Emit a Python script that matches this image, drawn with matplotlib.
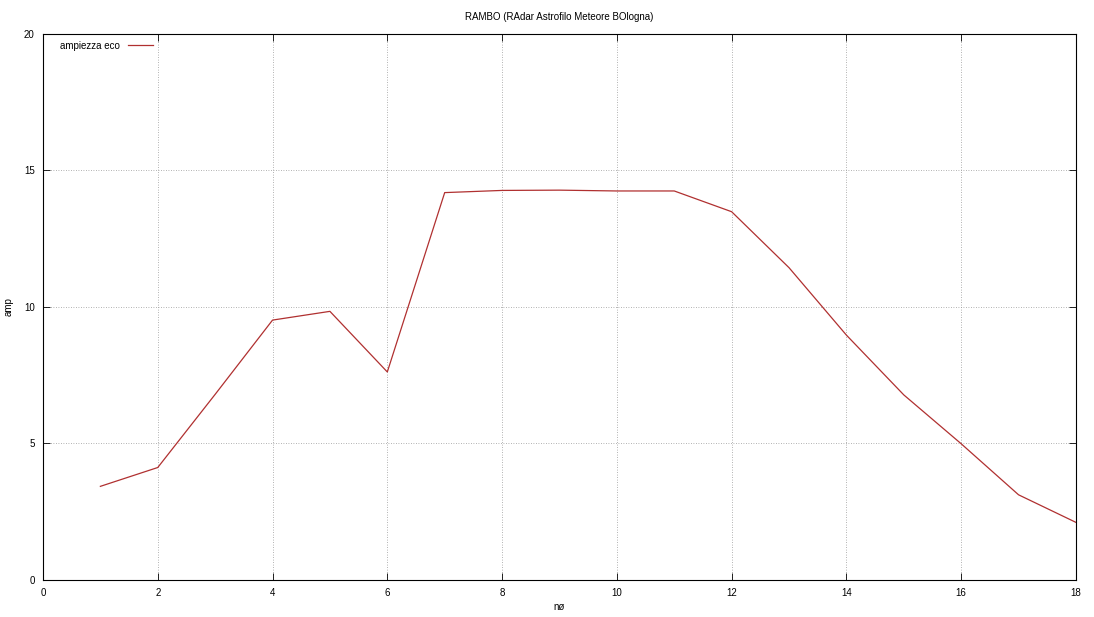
import matplotlib
matplotlib.use('Agg')
from matplotlib import pyplot as plt
import matplotlib.ticker as ticker

# data
n = [1, 2, 3, 4, 5, 6, 7, 8, 9, 10, 11, 12, 13, 14, 15, 16, 17, 18]
amp = [3.43, 4.12, 6.8, 9.52, 9.84, 7.62, 14.19, 14.27, 14.28, 14.25, 14.25,
       13.49, 11.44, 8.97, 6.78, 4.99, 3.12, 2.11]

plt.rcParams['font.family'] = ['Liberation Sans', 'DejaVu Sans']
plt.rcParams['font.size'] = 7

fig = plt.figure(figsize=(10.94, 6.17), dpi=100)
ax = fig.add_axes([0.0393, 0.06, 0.9442, 0.8849])
ax.plot(n, amp, color='#b03030', lw=0.9, label='ampiezza eco')

ax.set_xlim(0, 18)
ax.set_ylim(0, 20)
ax.xaxis.set_major_locator(ticker.MultipleLocator(2))
ax.yaxis.set_major_locator(ticker.MultipleLocator(5))
ax.tick_params(direction='in', length=5, width=0.6, top=True, right=True, pad=6)
ax.grid(True, linestyle=(0, (1, 2)), color='#999999', lw=0.6)
for s in ax.spines.values():
    s.set_linewidth(0.8)

ax.set_title('RAMBO (RAdar Astrofilo Meteore BOlogna)', fontsize=7, pad=10)
ax.set_xlabel('nø', va='center')
ax.xaxis.set_label_coords(0.5, -0.05)
ax.set_ylabel('amp', va='center')
ax.yaxis.set_label_coords(-0.033, 0.5)

ax.legend(loc='upper left', frameon=False, markerfirst=False, handlelength=2.6,
          borderaxespad=0.3, bbox_to_anchor=(0.01, 1.0))

fig.savefig('out.png', dpi=100)
